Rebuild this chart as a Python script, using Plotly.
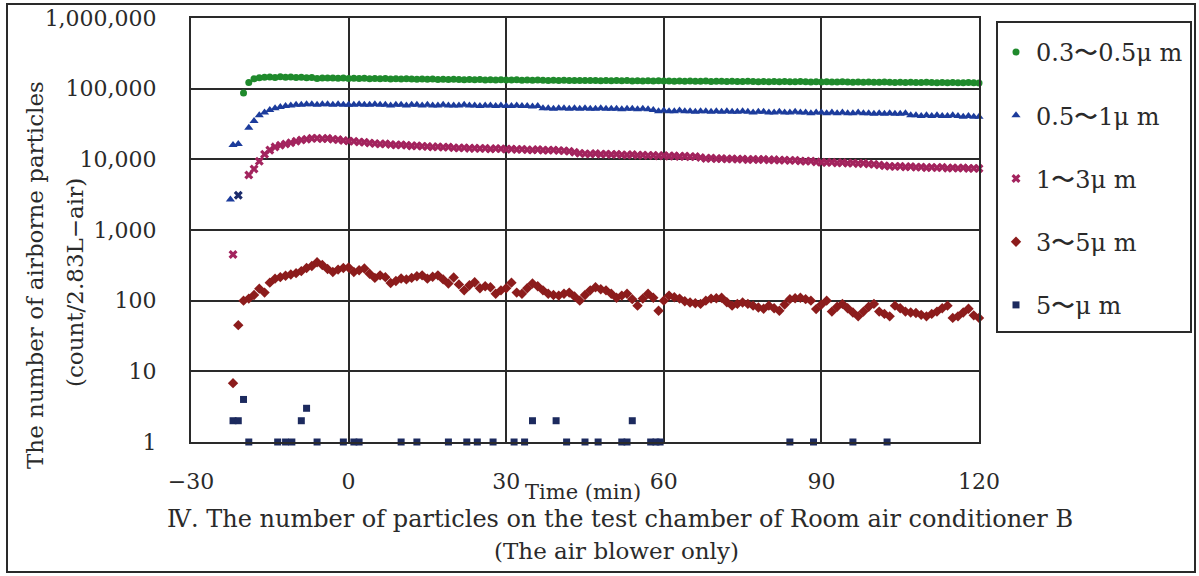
import plotly.graph_objects as go

# ---------------- data ----------------
# 0.3~0.5 um, thousands of counts, t = -20 .. 120 min (1-min steps)
t_green = list(range(-20, 121))
green_k = [87, 122, 138, 143, 145, 146, 144, 147, 145, 146, 144, 145, 143, 144, 139, 142, 141, 142, 140, 141, 139,
           140, 139, 140, 138, 139, 138, 139, 137, 138, 137,
           138, 137, 136, 137, 136, 137, 135, 136, 135, 136,
           135, 134, 135, 134, 135, 133, 134, 133, 134, 133,
           133, 134, 132, 133, 132, 133, 132, 131, 132, 131,
           132, 131, 130, 131, 130, 131, 130, 129, 130, 129,
           130, 129, 130, 128, 129, 128, 129, 128, 129, 128,
           128, 127, 128, 127, 128, 127, 127, 128, 126, 127,
           127, 126, 127, 126, 126, 127, 126, 125, 126, 125,
           126, 125, 126, 125, 125, 126, 125, 124, 125, 124,
           125, 124, 124, 125, 124, 123, 124, 123, 124, 123,
           123, 124, 123, 122, 123, 122, 123, 122, 122, 123,
           122, 121, 122, 121, 122, 121, 121, 122, 121, 120]

# 0.5~1 um, thousands of counts
t_blue_early = [-22.5, -22, -21]
blue_early_k = [2.7, 16, 16.5]
t_main = list(range(-19, 121))
blue_k = [28, 35, 42, 46, 50, 53, 55, 57, 58, 59, 59, 60, 60, 59, 60, 60, 59, 60, 59, 59,
          59, 60, 59, 59, 60, 59, 59, 58, 59, 59,
          58, 59, 59, 58, 59, 58, 58, 59, 58, 58,
          58, 59, 58, 58, 57, 58, 58, 57, 58, 57,
          57, 58, 57, 57, 56, 57, 53, 53, 52, 53,
          53, 52, 53, 52, 53, 52, 52, 53, 52, 52,
          52, 51, 52, 52, 51, 52, 51, 50, 48, 49,
          48, 48, 49, 48, 48, 47, 48, 48, 47, 48,
          47, 48, 47, 47, 48, 47, 46, 47, 47, 46,
          46, 47, 46, 46, 47, 46, 46, 45, 46, 46,
          45, 46, 45, 46, 45, 45, 46, 45, 45, 44,
          45, 44, 45, 44, 44, 45, 42, 42, 41, 42,
          41, 42, 41, 41, 42, 41, 40, 41, 40, 40]

# 1~3 um, thousands of counts
t_mag_early = [-22, -21]
mag_early_k = [0.45, 3.1]
mag_k = [6.0, 7.3, 9.4, 11.8, 13.5, 15.0, 15.8, 16.5, 17.2, 18.0, 18.8, 19.3, 19.8, 19.9, 19.6, 19.8, 19.2, 19.0, 18.5, 18.2,
         18.0, 17.6, 17.4, 17.0, 16.8, 16.5, 16.6, 16.2, 16.0, 16.1,
         15.8, 15.5, 15.6, 15.3, 15.2, 15.0, 15.1, 14.8, 14.9, 14.6,
         14.5, 14.6, 14.3, 14.4, 14.2, 14.3, 14.0, 14.2, 14.1, 13.9,
         14.0, 13.8, 13.9, 13.7, 13.6, 13.8, 13.5, 13.4, 13.6, 13.3,
         13.2, 13.0, 12.6, 12.2, 12.0, 11.9, 12.1, 11.8, 11.9, 11.7,
         11.8, 11.6, 11.5, 11.7, 11.4, 11.5, 11.3, 11.4, 11.2, 11.3,
         11.1, 11.2, 11.0, 11.1, 10.9, 11.0, 10.6, 10.3, 10.4, 10.2,
         10.3, 10.1, 10.2, 10.0, 10.1, 9.9, 10.0, 9.9, 10.0, 9.8,
         9.9, 9.7, 9.8, 9.6, 9.7, 9.5, 9.4, 9.5, 9.2, 9.1,
         9.0, 9.1, 8.9, 9.0, 8.8, 8.9, 8.7, 8.8, 8.6, 8.5,
         8.3, 8.1, 8.0, 7.9, 8.0, 7.8, 7.9, 7.7, 7.8, 7.6,
         7.7, 7.6, 7.7, 7.5, 7.6, 7.5, 7.6, 7.4, 7.5, 7.4]

# 3~5 um, counts
t_red_early = [-22, -21, -20]
red_early = [6.8, 45, 100]
red = [107, 120, 148, 130, 180, 205, 215, 225, 235, 245, 262, 290, 310, 350, 320, 280, 255, 275, 290, 295,
       255, 270, 285, 240, 210, 228, 215, 178, 190, 206,
       200, 210, 222, 228, 205, 218, 228, 200, 175, 213,
       170, 140, 165, 182, 150, 160, 155, 125, 140, 150,
       180, 130, 125, 150, 175, 160, 140, 125, 120, 118,
       125, 130, 115, 100, 120, 140, 155, 145, 140, 125,
       110, 118, 125, 105, 85, 107, 125, 110, 72, 100,
       118, 112, 107, 98, 94, 92, 90, 100, 107, 108,
       110, 95, 85, 90, 94, 90, 85, 80, 77, 85,
       78, 72, 88, 105, 108, 110, 105, 100, 76, 88,
       100, 70, 82, 90, 78, 68, 60, 70, 82, 90,
       70, 65, 60, 85, 78, 70, 68, 67, 63, 60,
       65, 70, 78, 85, 57, 60, 68, 77, 62, 57]

# 5~ um, counts
t_navy = [-22, -21, -20, -19, -13.5, -12, -10.8, -9, -8, -6, -1, 1, 2, 10, 13, 19, 22.5, 24.5,
          27.5, 31.5, 33.5, 35, 39.5, 41.5, 45, 47.5, 52, 53, 54, 57.5, 58.5, 59.3, 84, 88.5, 96, 102.5]
navy = [2, 2, 4, 1, 1, 1, 1, 2, 3, 1, 1, 1, 1, 1, 1, 1, 1, 1,
        1, 1, 1, 2, 2, 1, 1, 1, 1, 1, 2, 1, 1, 1, 1, 1, 1, 1]

series_names = ["0.3〜0.5μ m", "0.5〜1μ m", "1〜3μ m", "3〜5μ m", "5〜μ m"]
y_tickvals = [1, 10, 100, 1000, 10000, 100000, 1000000]
y_ticktext = ["1", "10", "100", "1,000", "10,000", "100,000", "1,000,000"]
x_tickvals = [-30, 0, 30, 60, 90, 120]
x_ticktext = ["−30", "0", "30", "60", "90", "120"]

# ---------------- figure ----------------
FONT = "DejaVu Serif"
INK = "#2a2a2a"

fig = go.Figure()
fig.add_trace(go.Scatter(
    x=t_green, y=[v * 1000 for v in green_k], mode="markers", name=series_names[0],
    legendgroup="a", cliponaxis=False,
    marker=dict(symbol="circle", size=7, color="#1f8a2c")))
fig.add_trace(go.Scatter(
    x=t_blue_early + t_main, y=[v * 1000 for v in blue_early_k + blue_k], mode="markers",
    name=series_names[1], legendgroup="b", cliponaxis=False,
    marker=dict(symbol="triangle-up", size=8, color="#1c3c9c")))
fig.add_trace(go.Scatter(
    x=t_mag_early + t_main, y=[v * 1000 for v in mag_early_k + mag_k], mode="markers",
    name=series_names[2], legendgroup="c", cliponaxis=False,
    marker=dict(symbol="x", size=8, color=["#a3245e", "#1c2c6c"] + ["#a3245e"] * len(mag_k))))
fig.add_trace(go.Scatter(
    x=t_red_early + t_main, y=red_early + red, mode="markers",
    name=series_names[3], legendgroup="d", cliponaxis=False,
    marker=dict(symbol="diamond", size=8, color="#8c1c1c")))
fig.add_trace(go.Scatter(
    x=t_navy, y=navy, mode="markers", name=series_names[4], legendgroup="e", cliponaxis=False,
    marker=dict(symbol="square", size=7, color="#1c2a5e")))

L, R, T, B = 191, 979, 18, 442
W, H = 1199, 576


def px(x):
    return (x - L) / (R - L)


def py(y):
    return (B - y) / (B - T)


fig.update_layout(
    width=W, height=H,
    margin=dict(l=L, r=W - R, t=T, b=H - B, autoexpand=False),
    paper_bgcolor="white", plot_bgcolor="white",
    font=dict(family=FONT, size=21, color=INK),
    showlegend=True,
    legend=dict(x=px(996), y=py(30), xanchor="left", yanchor="top",
                borderwidth=0, bgcolor="rgba(0,0,0,0)",
                traceorder="grouped", tracegroupgap=29,
                font=dict(family=FONT, size=24, color=INK),
                itemwidth=30),
    xaxis=dict(range=[-30, 120], tickvals=x_tickvals, ticktext=x_ticktext,
               showgrid=True, gridcolor=INK, gridwidth=1.6, zeroline=False, automargin=False,
               showline=True, linecolor=INK, linewidth=2, mirror=True, ticks="",
               ticklabelstandoff=19, tickfont=dict(size=22)),
    yaxis=dict(type="log", range=[0, 6], tickvals=y_tickvals, ticktext=y_ticktext,
               showgrid=True, gridcolor=INK, gridwidth=1.6, zeroline=False, automargin=False,
               showline=True, linecolor=INK, linewidth=2, mirror=True, ticks="",
               ticklabelstandoff=28, tickfont=dict(size=22)),
    shapes=[dict(type="rect", xref="paper", yref="paper",
                 x0=px(7), x1=px(1195), y0=py(572), y1=py(4),
                 line=dict(color=INK, width=2)),
            dict(type="rect", xref="paper", yref="paper",
                 x0=px(997), x1=px(1191), y0=py(332), y1=py(22),
                 line=dict(color=INK, width=2))],
)

ann = [
    dict(text="Time (min)", x=px(583), y=py(492), size=21),
    dict(text="Ⅳ. The number of particles on the test chamber of Room air conditioner B",
         x=px(620), y=py(519), size=24),
    dict(text="(The air blower only)", x=px(616), y=py(551), size=23),
    dict(text="The number of airborne particles", x=px(35), y=py(275), textangle=-90, size=23),
    dict(text="(count/2.83L−air)", x=px(75), y=py(283), textangle=-90, size=23),
]
for a in ann:
    size = a.pop("size")
    fig.add_annotation(xref="paper", yref="paper", showarrow=False,
                       xanchor="center", yanchor="middle",
                       font=dict(family=FONT, size=size, color=INK), **a)

fig.write_html("out.html", config={"displayModeBar": False},
               post_script="document.body.style.margin='0';document.body.style.overflow='hidden';")
